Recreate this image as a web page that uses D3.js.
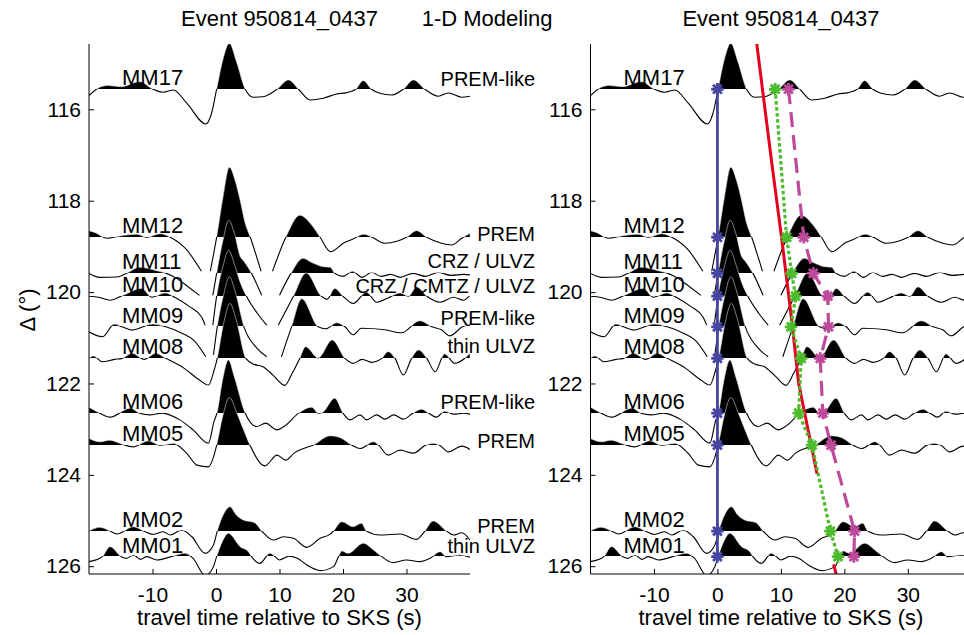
<!DOCTYPE html>
<html><head><meta charset="utf-8">
<script src="https://cdn.jsdelivr.net/npm/d3@7"></script>
<style>
body{margin:0;background:#fff}
svg text{font-family:"Liberation Sans",Arial,Helvetica,sans-serif;fill:#000}
</style></head><body><svg id="c" width="964" height="635"></svg>
<script>
// ---------------- data ----------------
const stations = ["MM17","MM12","MM11","MM10","MM09","MM08","MM06","MM05","MM02","MM01"];
const distances = [115.56,118.80,119.59,120.09,120.76,121.45,122.65,123.35,125.23,125.79];
const models = ["PREM-like","PREM","CRZ / ULVZ","CRZ / CMTZ / ULVZ","PREM-like","thin ULVZ","PREM-like","PREM","PREM","thin ULVZ"];
const modelLabelDist = [115.49,118.88,119.47,120.02,120.72,121.33,122.55,123.41,125.27,125.71];
const xTicks = [-10,0,10,20,30];
const yTicks = [116,118,120,122,124,126];
const sksTimes = [0,0,0,0,0,0,0,0,0,0];
const greenTimes = [9.1,10.9,11.7,12.3,11.6,13.2,12.8,14.9,17.8,19.0];
const magentaTimes = [11.2,13.6,15.1,17.4,17.5,16.2,16.6,17.9,21.6,21.5];
// red curve: [distance, time]
const redBranch1 = [[114.57,6.2],[117.11,8.5],[118.8,10.1],[120.61,11.7],[122.0,12.8],[123.98,15.7]];
const redBranch2 = [[125.96,18.3],[126.17,18.7]];

// seismogram traces: [time (s), amplitude]
const mm17 = [[-20,-6.4],[-18.3,2],[-17,3.7],[-15,2.5],[-12,7.6],[-9.9,0],[-8.3,-3],[-6.7,-0.7],[-4.6,-14],[-1.6,-34.7],[-0.7,-24],[0.1,0],[1.1,30],[2.1,46],[3.2,28],[4.6,0],[5.9,-8],[7.4,-7.5],[9.6,0],[11.4,9.3],[13,0],[14.8,-10.7],[16.9,-9],[19,-4.7],[20.6,-3.4],[22,0],[23.2,8.6],[24.5,0],[25.8,-4],[27.7,-5.7],[29.5,0],[31.1,9.3],[32.9,0],[35,-7],[36.6,-3.7],[38.7,-8],[40,-7]];
const mm12 = [[-20,6.6],[-19,4.6],[-17.2,-1],[-15.1,1.3],[-12.5,3],[-10.9,0],[-8.8,3.5],[-7.2,0],[-4.6,-12.7],[-2.3,-34],[-1.6,-48],[-0.9,-34],[0.1,0],[1.1,40],[2.1,70],[3.0,57],[3.8,37],[4.6,14],[5.4,0],[7.1,-34],[8.0,-46],[8.9,-34],[11.0,0],[13.2,22],[15.1,12],[16.4,0],[18,-14.4],[20.3,-5],[21.5,-2],[23.3,3],[24.6,0],[26.6,-6],[28.5,-4],[30,0],[31.6,6.6],[33.2,0],[35.5,-6],[37.1,-7.7],[38.7,-1],[40,4]];
const mm11 = [[-20,0],[-18.3,-4],[-15.6,-3.7],[-14.1,0],[-12,6],[-9.3,2.5],[-7.8,0],[-6.2,-5],[-4.4,-13.4],[-2.6,-22],[-1.8,-28],[-1.0,-28],[-0.5,-22],[0.1,0],[1.1,33],[2.0,53],[2.9,40],[3.8,17],[4.4,12],[5.6,0],[7.2,-22],[8.5,-32],[10.0,-22],[11.8,0],[13.7,15],[15,11],[16.9,6.6],[18,6],[18.7,0],[20,-3],[21.5,2],[23,-4],[24.5,1],[26,-3],[27.5,-1],[29,-4],[31,0],[33,-3],[35,1],[37,-2],[39,-1],[40,-1.5]];
const mm10 = [[-20,0],[-18.3,-1.3],[-16.7,-4],[-14.6,1],[-11.7,7.7],[-10.1,-1],[-8,3.3],[-6.5,-1],[-4.1,-10.7],[-2.25,-21],[-1.7,-29],[-1.1,-38],[-0.5,-29],[0.1,0],[1.1,30],[2.0,46],[2.9,32],[3.8,14],[4.8,0],[6.5,-17],[8.0,-29],[8.9,-38],[9.8,-29],[12.2,0],[14.2,23.3],[16.6,0],[17.5,-3],[18.7,7.7],[20,0],[21.6,-7.3],[23.7,4],[25.3,-6],[27,-2],[29,3.3],[30.3,0],[31.6,9.3],[33.2,0],[35.3,-6],[37.4,-1],[39,-4],[40,1]];
const mm09 = [[-20,-5],[-17.9,-10],[-16,2.7],[-14.8,0],[-13.2,-3.3],[-10,2.7],[-7.9,0],[-5.3,-6.6],[-3.4,-14],[-1.6,-30],[-1.0,-36],[-0.4,-28],[0.2,0],[1.2,32],[2.1,50],[3.0,36],[4.4,0],[6.4,-21],[8.0,-30],[9.2,-38],[10.3,-30],[11.9,0],[13.5,28],[16.1,0],[17.3,-2],[19,4],[20.3,0],[21.6,-8],[22.9,-1.5],[26.6,-3],[29.2,-6],[32.1,6],[34,0],[35.5,-3],[36.8,-9],[38.8,0],[40,3]];
const mm08 = [[-20,0],[-19.3,2.3],[-17.9,-3.4],[-16,-1],[-14.8,0],[-13.2,5],[-11.3,-1],[-9.5,5],[-7.9,0],[-5,-10],[-2.6,-21.7],[-1.2,-26.7],[-0.3,-12],[0.2,0],[1.2,35],[2.2,55],[3.2,38],[4.7,0],[6,-6],[7.4,-8.3],[9,-17],[10.8,-27],[12,-15],[13.2,0],[14.1,11.7],[16.1,0.5],[18.3,18.3],[20.3,0],[21.6,-5],[23,-1],[24.5,-4],[26.1,0],[27.1,6.7],[28.2,0],[29.5,-16.7],[30.8,0],[31.9,8.3],[33.2,0],[34.5,-13.4],[36,4.4],[37.6,-5],[40,5]];
const mm06 = [[-20,6],[-18.3,0],[-16.7,-4],[-13.5,5],[-12,0],[-10.4,-1.7],[-8.5,0],[-5.7,-6.7],[-3.6,-16.7],[-1.2,-30],[-0.3,-8],[0.15,0],[1.0,32],[1.95,53.3],[2.9,36],[4.6,0],[6.4,-13.4],[7.8,-10],[9.6,-16.7],[11,-12],[13,0],[15.1,6],[16.1,0],[16.8,1],[18.7,15],[20,0],[21.1,-6.7],[22.7,-1.7],[23.7,-6.7],[25.3,-1.7],[26.6,-6],[28,-1.7],[29.5,-6],[31,0],[32.4,4],[33.5,0],[34.7,-4],[36,2],[37.5,-1],[39,0],[40,-1]];
const mm05 = [[-20,6.7],[-18.3,3.3],[-16.7,5],[-15.1,1.7],[-13,-1.7],[-10.7,4.3],[-8.8,0],[-6.7,1.7],[-4.6,-8.3],[-3,-20],[-1.2,-21.7],[-0.4,-12],[0.1,0],[1.1,30],[2.1,47.7],[3.3,32],[4.3,16],[5.35,0],[7.7,-20.7],[9.6,-10],[11,-15],[12.3,-8],[13.5,-4],[15.3,0],[18,9.3],[19.5,7.7],[21.4,0],[22.7,-3.4],[24.8,3.3],[25.6,0],[27.1,-10],[29,-5],[31.1,-8],[33,0],[34.2,1.7],[35.2,0],[36.6,-6.7],[38.7,-1],[40,-4.3]];
const mm02 = [[-20,0],[-18.3,3.7],[-16.7,0],[-15.6,-3],[-13,4.3],[-11.4,0],[-9.9,-3.4],[-8.3,-0.7],[-7.2,-4],[-5.4,1],[-3.8,-5.7],[-1.7,-22.3],[-0.4,-14],[0.2,0],[1.2,17],[2.2,24.3],[3.2,16],[4.3,11],[6.1,8.3],[7.2,0],[9,-9],[10.6,-5.7],[12.2,-7.3],[14.3,-16.3],[16.4,-7.3],[18,-3],[18.5,0],[19.8,9.3],[21.6,4.3],[22.9,7.7],[23.7,0],[25.8,-4],[29,-3],[31.6,-8.3],[32.9,0],[34.2,10],[36.3,0],[37.4,-4],[38.7,-1.7],[40,-9]];
const mm01 = [[-20,-5],[-18.3,-1.7],[-17.9,0],[-16.7,10],[-14.9,0],[-14.1,-1.7],[-13,1.7],[-11.9,-2.7],[-10.9,0],[-9.3,-3.3],[-6.7,0.7],[-4.9,3.3],[-3.6,-1.7],[-1.7,-19],[-0.4,-10],[0.1,0],[1.0,15],[1.95,23.3],[3.8,10],[5.1,5],[5.6,0],[6.9,-6.7],[8.5,3.3],[9.3,0],[10,-3.3],[11.5,0.5],[12.8,-1.7],[14.3,-8.3],[16.4,-14],[18.5,-10],[19.3,0],[19.8,5.7],[20.8,3.3],[23.2,13.4],[24.8,6.7],[26.1,0],[27.9,-6],[30,-3.3],[32.1,-5],[33.7,-1.7],[35.3,5],[36.3,0],[38.4,1.7],[40,-0.7]];
const traces = [mm17,mm12,mm11,mm10,mm09,mm08,mm06,mm05,mm02,mm01];

// ---------------- drawing ----------------
const svg = d3.select("#c");
const yTop = 44, yBot = 574;
const ampGain = 1/45.7; // degrees per amplitude unit
const y = d3.scaleLinear().domain([114.57,126.17]).range([yTop,yBot]);
const tDomain = [-20,40];
const panels = [
  {x: d3.scaleLinear().domain(tDomain).range([89,470]), left:true},
  {x: d3.scaleLinear().domain(tDomain).range([590.5,971.3]), left:false}
];
const defs = svg.append("defs");
const curve = d3.curveMonotoneX;

panels.forEach((p, pi) => {
  const x = p.x;
  const [x0,x1] = x.range();
  defs.append("clipPath").attr("id",`plot${pi}`)
    .append("rect").attr("x",x0).attr("y",yTop).attr("width",x1-x0).attr("height",yBot-yTop);
  const g = svg.append("g");
  const tg = g.append("g").attr("clip-path",`url(#plot${pi})`);
  traces.forEach((tr, i) => {
    const dist = distances[i];
    const yb = y(dist);
    const yc = Math.floor(yb);   // pixel-aligned split between fill and line
    const clipAmp = i < traces.length-1 ? (distances[i+1]-dist)/ampGain : Infinity;
    const yv = d => y(dist - d[1]*ampGain);
    // negative part: plain line, only below the baseline
    const lid = `l${pi}_${i}`;
    defs.append("clipPath").attr("id",lid).append("rect")
      .attr("x",x0-2).attr("y",yc).attr("width",x1-x0+4).attr("height",yBot-yc);
    const line = d3.line().defined(d => d[1] >= -clipAmp).x(d => x(d[0])).y(yv).curve(curve);
    tg.append("g").attr("clip-path",`url(#${lid})`)
      .append("path").attr("d", line(tr)).attr("fill","none").attr("stroke","#000").attr("stroke-width",1.1);
    // positive part: filled black
    const cid = `f${pi}_${i}`;
    defs.append("clipPath").attr("id",cid).append("rect")
      .attr("x",x0).attr("y",yTop).attr("width",x1-x0).attr("height",yc-yTop);
    const area = d3.area().x(d => x(d[0])).y0(yc + 2).y1(yv).curve(curve);
    tg.append("g").attr("clip-path",`url(#${cid})`)
      .append("path").attr("d", area(tr)).attr("fill","#000")
      .attr("stroke","#e6e6e6").attr("stroke-width",0.55);
  });

  // station labels
  stations.forEach((s,i) => {
    g.append("text").attr("x", x(-14.8)).attr("y", y(distances[i]) - 4)
      .attr("font-size",22).text(s);
  });

  // overlays for right panel
  if (!p.left) {
    const og = g.append("g").attr("clip-path",`url(#plot${pi})`);
    const redLine = d3.line().x(d => x(d[1])).y(d => y(d[0]));
    [redBranch1, redBranch2].forEach(b => og.append("path").attr("d", redLine(b))
      .attr("fill","none").attr("stroke","#E5001F").attr("stroke-width",3));
    const pl = d3.line().x(d => x(d[0])).y(d => y(d[1]));
    const series = [
      {t: sksTimes, c:"#4646A2", dash:null},
      {t: greenTimes, c:"#4CBB2C", dash:"3.5,2.5"},
      {t: magentaTimes, c:"#BE4A9C", dash:"15,8"}
    ];
    series.forEach(s => {
      og.append("path").attr("d", pl(s.t.map((t,i)=>[t,distances[i]])))
        .attr("fill","none").attr("stroke",s.c).attr("stroke-width",s.dash? 3.2:2.8)
        .attr("stroke-dasharray",s.dash);
    });
    const r = 6.2, a = r*0.7071;
    const star = `M${-r},0L${r},0M0,${-r}L0,${r}M${-a},${-a}L${a},${a}M${-a},${a}L${a},${-a}`;
    series.forEach(s => {
      s.t.forEach((t,i) => {
        og.append("path").attr("d",star)
          .attr("transform",`translate(${x(t)},${y(distances[i])})`)
          .attr("fill","none").attr("stroke",s.c).attr("stroke-width",2.8);
      });
    });
  }

  // axes
  const ax = g.append("g").attr("transform",`translate(${x0},0)`)
    .call(d3.axisLeft(y).tickValues(yTicks).tickSize(-5).tickSizeOuter(0).tickPadding(8).tickFormat(d=>String(d)));
  const bx = g.append("g").attr("transform",`translate(0,${yBot})`)
    .call(d3.axisBottom(x).tickValues(xTicks).tickSize(-5).tickSizeOuter(0).tickPadding(13).tickFormat(d=>String(d)));
  [ax,bx].forEach(a => {
    a.attr("font-family",null).attr("font-size",null);
    a.selectAll("text").attr("font-size",21);
    a.selectAll("path,line").attr("stroke","#000").attr("stroke-width",1);
  });
  ax.select(".domain").attr("d",`M0,${yTop}V${yBot}`);
  bx.select(".domain").attr("d",`M${x0},0H${x1}`);

  // axis label and title
  svg.append("text").attr("x",(x0+x1)/2).attr("y",625).attr("text-anchor","middle")
    .attr("font-size",22).text("travel time relative to SKS (s)");
  svg.append("text").attr("x",(x0+x1)/2).attr("y",26).attr("text-anchor","middle")
    .attr("font-size",22).text("Event 950814_0437");
});

// left panel extras
models.forEach((m,i) => {
  svg.append("text").attr("x",535).attr("y",y(modelLabelDist[i])).attr("text-anchor","end")
    .attr("font-size",20).text(m);
});
svg.append("text").attr("x",421.7).attr("y",26).attr("font-size",22).text("1-D Modeling");
svg.append("text").attr("transform","translate(35,310) rotate(-90)").attr("text-anchor","middle")
  .attr("font-size",22).text("Δ (°)");
</script></body></html>
